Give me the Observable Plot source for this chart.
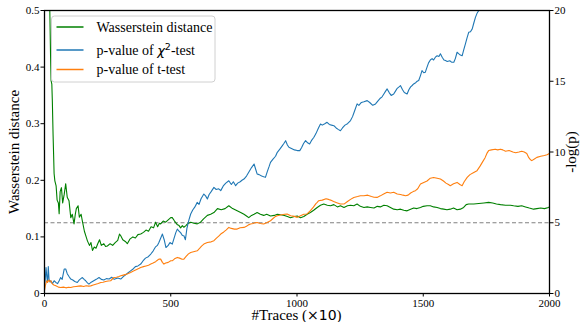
<!DOCTYPE html>
<html>
<head>
<meta charset="utf-8">
<script src="https://cdn.jsdelivr.net/npm/d3@7"></script>
<script src="https://cdn.jsdelivr.net/npm/@observablehq/plot@0.6"></script>
<style>
  html, body { margin: 0; padding: 0; background: #fff; }
  #chart { width: 582px; height: 322px; }
</style>
</head>
<body>
<div id="chart"></div>
<script>
// ---- Data ----
const xTicks = [0, 500, 1000, 1500, 2000];
const leftTicks = [0, 0.1, 0.2, 0.3, 0.4, 0.5];
const rightTicks = [0, 5, 10, 15, 20];
const threshold = 0.125; // Wasserstein distance threshold (== 5 on -log(p) axis)
const seriesNames = ["Wasserstein distance", "p-value of χ²-test", "p-value of t-test"];

// Wasserstein distance (left axis): [traces(x10), distance]
const wasserstein = [[0,1.0],[14,0.62],[21,0.5],[24,0.42],[26,0.376],[29,0.37],[31,0.341],[34,0.28],[36,0.247],[38,0.212],[41,0.199],[46,0.19],[50,0.165],[55,0.16],[58,0.141],[62,0.18],[67,0.187],[72,0.16],[78,0.175],[84,0.194],[90,0.17],[97,0.164],[104,0.134],[110,0.14],[117,0.123],[122,0.14],[126,0.15],[133,0.155],[138,0.135],[145,0.14],[150,0.128],[158,0.11],[165,0.1],[170,0.093],[178,0.085],[184,0.09],[190,0.076],[197,0.082],[204,0.08],[210,0.087],[218,0.095],[225,0.085],[235,0.088],[242,0.083],[249,0.084],[260,0.088],[270,0.085],[280,0.09],[290,0.094],[297,0.105],[302,0.102],[310,0.095],[320,0.092],[328,0.088],[338,0.096],[350,0.1],[360,0.098],[370,0.104],[381,0.105],[392,0.108],[402,0.112],[412,0.11],[422,0.118],[432,0.116],[440,0.126],[448,0.118],[455,0.124],[460,0.123],[470,0.128],[480,0.126],[490,0.13],[500,0.134],[506,0.134],[515,0.128],[525,0.122],[533,0.12],[539,0.116],[546,0.12],[552,0.117],[560,0.12],[566,0.123],[579,0.126],[592,0.124],[605,0.123],[618,0.126],[630,0.132],[645,0.138],[658,0.14],[671,0.143],[685,0.15],[700,0.148],[715,0.15],[730,0.155],[745,0.15],[763,0.146],[777,0.143],[790,0.14],[800,0.137],[809,0.134],[820,0.138],[830,0.14],[842,0.143],[855,0.14],[868,0.138],[880,0.14],[895,0.137],[910,0.138],[922,0.14],[935,0.139],[950,0.138],[962,0.136],[974,0.134],[990,0.136],[1001,0.137],[1014,0.134],[1027,0.136],[1040,0.14],[1053,0.143],[1066,0.147],[1080,0.152],[1093,0.156],[1106,0.158],[1120,0.156],[1133,0.155],[1146,0.157],[1160,0.153],[1172,0.155],[1186,0.152],[1200,0.155],[1212,0.156],[1225,0.155],[1238,0.158],[1251,0.154],[1265,0.152],[1278,0.153],[1291,0.152],[1305,0.151],[1318,0.154],[1330,0.153],[1344,0.156],[1357,0.155],[1370,0.152],[1383,0.149],[1397,0.148],[1410,0.149],[1423,0.147],[1436,0.146],[1450,0.149],[1462,0.151],[1475,0.15],[1489,0.152],[1500,0.154],[1515,0.155],[1528,0.155],[1541,0.153],[1555,0.152],[1568,0.15],[1581,0.149],[1594,0.148],[1607,0.149],[1620,0.151],[1634,0.148],[1647,0.149],[1660,0.152],[1670,0.157],[1680,0.158],[1700,0.158],[1720,0.159],[1740,0.16],[1759,0.161],[1775,0.16],[1790,0.158],[1806,0.157],[1826,0.156],[1845,0.156],[1858,0.155],[1875,0.154],[1890,0.155],[1905,0.153],[1920,0.151],[1937,0.149],[1950,0.15],[1965,0.151],[1980,0.15],[1996,0.152],[2000,0.153]];

// chi-squared test -log(p) (right axis): [traces(x10), -log(p)]
const chiSquared = [[0,0.5],[3,1.0],[6,1.84],[9,1.2],[12,0.78],[15,1.9],[18,1.0],[22,0.8],[25,0.9],[32,0.7],[38,0.9],[45,0.78],[52,0.7],[58,0.9],[64,1.13],[70,1.0],[78,1.73],[84,1.73],[90,1.4],[97,1.2],[104,1.02],[112,0.95],[120,0.85],[130,0.78],[137,0.95],[144,1.05],[150,1.13],[157,1.0],[163,0.9],[170,0.75],[176,0.66],[185,0.8],[195,0.9],[205,1.0],[216,1.13],[225,1.0],[235,0.95],[245,1.05],[256,1.02],[266,1.15],[276,1.0],[290,1.1],[302,1.02],[312,1.2],[320,1.3],[330,1.45],[341,1.6],[352,1.75],[360,1.9],[370,1.95],[381,2.08],[390,2.3],[400,2.5],[411,2.6],[421,2.79],[430,3.0],[440,3.3],[447,3.4],[453,3.61],[460,3.9],[467,4.2],[474,3.8],[481,3.25],[490,3.4],[497,3.6],[506,3.49],[513,3.9],[520,4.3],[526,4.55],[533,4.4],[539,4.3],[546,4.1],[552,4.08],[558,3.8],[564,4.6],[572,5.2],[579,5.62],[587,5.9],[595,6.1],[605,6.44],[612,6.3],[620,6.7],[631,7.03],[638,6.9],[645,6.68],[652,7.0],[660,7.2],[671,7.5],[680,7.35],[690,7.4],[698,7.27],[708,7.6],[718,7.8],[730,7.97],[740,7.7],[748,7.9],[757,7.62],[765,7.8],[775,7.9],[782,8.0],[790,8.09],[800,8.3],[810,8.6],[820,8.9],[830,9.15],[836,8.8],[842,8.45],[850,8.4],[860,8.3],[868,8.25],[875,8.21],[882,8.6],[890,9.0],[895,9.27],[905,9.5],[915,9.7],[922,9.98],[932,10.2],[940,10.4],[948,10.6],[955,10.8],[962,10.5],[968,10.33],[978,10.25],[990,10.15],[1001,10.1],[1011,10.1],[1018,10.3],[1026,10.6],[1034,10.8],[1042,10.65],[1050,10.57],[1057,10.8],[1067,11.04],[1075,11.3],[1085,11.7],[1093,11.98],[1100,11.9],[1110,12.0],[1119,12.1],[1128,11.95],[1137,11.9],[1146,11.86],[1155,11.7],[1163,11.6],[1172,11.5],[1180,11.7],[1190,11.9],[1200,12.0],[1212,12.22],[1220,12.5],[1228,12.9],[1238,13.4],[1245,13.3],[1255,13.5],[1265,13.55],[1278,13.63],[1288,13.5],[1300,13.3],[1311,13.4],[1320,13.6],[1330,13.8],[1337,13.9],[1344,14.1],[1351,14.3],[1357,14.46],[1365,14.2],[1373,14.0],[1383,14.1],[1390,14.3],[1397,14.5],[1404,14.6],[1410,14.69],[1418,14.4],[1425,14.2],[1436,14.1],[1443,14.4],[1450,14.6],[1456,14.7],[1462,14.81],[1470,14.9],[1476,15.0],[1482,15.05],[1489,15.4],[1495,15.75],[1502,15.6],[1508,15.63],[1515,16.0],[1521,16.3],[1528,16.5],[1535,16.6],[1541,16.5],[1548,16.7],[1555,16.8],[1562,16.75],[1568,16.94],[1575,16.7],[1582,16.5],[1588,16.46],[1595,16.4],[1605,16.45],[1612,16.35],[1621,16.34],[1627,16.6],[1634,17.05],[1640,16.95],[1647,16.85],[1654,16.8],[1660,17.2],[1667,17.64],[1674,18.1],[1680,18.46],[1687,18.5],[1694,18.7],[1700,19.1],[1707,19.53],[1713,19.8],[1720,20.0],[1728,20.4],[1740,20.9]];

// t-test -log(p) (right axis): [traces(x10), -log(p)]
const tTest = [[0,0.2],[4,0.6],[8,0.9],[12,0.78],[16,0.95],[20,0.85],[25,0.9],[30,0.7],[37,0.6],[45,0.54],[55,0.45],[64,0.42],[75,0.45],[85,0.4],[95,0.44],[104,0.42],[115,0.48],[125,0.5],[135,0.52],[144,0.54],[155,0.5],[165,0.55],[175,0.52],[183,0.54],[193,0.6],[203,0.65],[213,0.7],[223,0.78],[232,0.8],[242,0.85],[252,0.88],[262,0.9],[275,1.13],[285,1.15],[295,1.2],[302,1.25],[312,1.3],[322,1.35],[332,1.42],[341,1.49],[354,1.6],[365,1.7],[375,1.78],[381,1.84],[392,1.9],[402,1.95],[412,2.0],[421,2.08],[430,2.15],[440,2.25],[447,2.35],[453,2.43],[460,2.43],[467,2.2],[473,2.08],[480,2.15],[490,2.2],[500,2.31],[506,2.31],[515,2.45],[526,2.55],[535,2.5],[545,2.42],[552,2.43],[560,2.6],[570,2.8],[579,2.9],[590,2.95],[605,3.02],[615,3.2],[622,3.35],[631,3.49],[645,3.6],[660,3.65],[671,3.73],[680,3.9],[690,4.05],[698,4.2],[710,4.35],[720,4.5],[730,4.67],[740,4.6],[752,4.55],[763,4.55],[775,4.65],[790,4.67],[800,4.75],[808,4.85],[816,4.91],[826,4.95],[834,5.0],[842,5.02],[855,4.95],[868,4.91],[880,5.0],[895,5.14],[905,5.3],[915,5.45],[922,5.5],[935,5.55],[950,5.6],[961,5.62],[975,5.5],[990,5.45],[1001,5.38],[1014,5.5],[1027,5.6],[1040,5.62],[1053,5.85],[1065,6.1],[1075,6.35],[1080,6.44],[1086,6.56],[1100,6.6],[1115,6.7],[1125,6.65],[1133,6.6],[1145,6.5],[1160,6.4],[1172,6.32],[1186,6.32],[1200,6.5],[1212,6.65],[1225,6.79],[1240,6.85],[1251,6.91],[1265,6.91],[1280,6.95],[1295,6.85],[1305,6.8],[1317,6.79],[1330,6.9],[1345,7.05],[1357,7.15],[1370,7.1],[1383,7.15],[1397,7.03],[1410,7.0],[1420,6.95],[1430,6.91],[1440,6.95],[1450,7.1],[1460,7.2],[1469,7.27],[1478,7.4],[1489,7.74],[1502,7.85],[1515,7.95],[1528,8.15],[1541,8.2],[1555,8.15],[1568,8.09],[1580,7.95],[1590,7.8],[1600,7.7],[1607,7.62],[1620,7.75],[1634,7.85],[1645,7.7],[1654,7.62],[1662,7.9],[1674,8.21],[1685,8.4],[1700,8.55],[1713,8.68],[1725,9.0],[1735,9.3],[1745,9.6],[1752,9.9],[1759,10.1],[1770,10.15],[1785,10.2],[1795,10.15],[1806,10.2],[1815,10.15],[1826,10.05],[1840,10.1],[1855,10.0],[1866,9.95],[1879,10.0],[1890,10.05],[1900,10.0],[1910,9.9],[1918,9.6],[1925,9.45],[1930,9.39],[1940,9.5],[1950,9.62],[1965,9.7],[1980,9.75],[1990,9.8],[1996,9.86],[2000,9.9]];

// ---- Chart ----
const colors = ["#008000", "#1f77b4", "#ff7f0e"];
const leftMax = 0.5, rightMax = 20;
const k = leftMax / rightMax; // right axis -> left axis scale factor
const serif = "Liberation Serif, Times New Roman, serif";

const svg = Plot.plot({
  width: 582,
  height: 322,
  marginLeft: 44,
  marginRight: 33,
  marginTop: 10,
  marginBottom: 29,
  style: { fontFamily: serif, fontSize: "11px", color: "#000", background: "#fff" },
  x: { domain: [0, 2000] },
  y: { domain: [0, leftMax] },
  marks: [
    Plot.ruleY([threshold], { stroke: "#808080", strokeWidth: 1, strokeDasharray: "4,2.5" }),
    Plot.line(wasserstein, { x: d => d[0], y: d => d[1], stroke: colors[0], strokeWidth: 1.1, clip: true }),
    Plot.line(chiSquared, { x: d => d[0], y: d => d[1] * k, stroke: colors[1], strokeWidth: 1.1, clip: true }),
    Plot.line(tTest, { x: d => d[0], y: d => d[1] * k, stroke: colors[2], strokeWidth: 1.1, clip: true }),
    Plot.axisX({ ticks: xTicks, tickSize: 3.5, tickPadding: 2, label: null, fontFamily: serif, tickFormat: d => String(d) }),
    Plot.axisY({ ticks: leftTicks, tickSize: 3.5, tickPadding: 1.5, label: null, fontFamily: serif, tickFormat: d => d === 0 ? "0" : d3.format(".1f")(d) }),
    Plot.axisY({ anchor: "right", ticks: rightTicks.map(v => v * k), tickSize: 3.5, tickPadding: 1.5, label: null, fontFamily: serif, tickFormat: d => String(Math.round(d / k)) }),
    Plot.frame({ stroke: "#000", strokeWidth: 1.3 })
  ]
});

document.getElementById("chart").appendChild(svg);

const s = d3.select(svg);
// make sure all axis tick labels use the serif face
s.selectAll("text").style("font-family", serif).style("font-size", "11px");

// Axis titles
s.append("text")
  .attr("transform", "translate(16,152) rotate(-90)")
  .attr("text-anchor", "middle").attr("dominant-baseline", "middle")
  .style("font-family", serif).style("font-size", "15px").attr("fill", "#000")
  .text("Wasserstein distance");

s.append("text")
  .attr("transform", "translate(573,152) rotate(-90)")
  .attr("text-anchor", "middle").attr("dominant-baseline", "middle")
  .style("font-family", serif).style("font-size", "15px").attr("fill", "#000")
  .text("-log(p)");

const xl = s.append("text")
  .attr("x", 296.5).attr("y", 320)
  .attr("text-anchor", "middle")
  .style("font-family", serif).style("font-size", "15px").attr("fill", "#000");
xl.append("tspan").text("#Traces (");
xl.append("tspan").style("font-family", "DejaVu Sans, sans-serif").style("font-size", "14px").text("×10");
xl.append("tspan").text(")");

// Legend
const lg = s.append("g").attr("transform", "translate(51.5,16)");
lg.append("rect")
  .attr("width", 163.5).attr("height", 66).attr("rx", 3)
  .attr("fill", "#fff").attr("fill-opacity", 0.85)
  .attr("stroke", "#d0d0d0").attr("stroke-width", 1);
const rowsY = [11, 34, 53.5];
seriesNames.forEach((name, i) => {
  lg.append("line")
    .attr("x1", 5).attr("x2", 32)
    .attr("y1", rowsY[i]).attr("y2", rowsY[i])
    .attr("stroke", colors[i]).attr("stroke-width", 1.5);
  const t = lg.append("text")
    .attr("x", 45).attr("y", rowsY[i] + 4.5)
    .attr("text-anchor", "start")
    .style("font-family", serif).style("font-size", "14px").attr("fill", "#000");
  if (i === 1) {
    t.append("tspan").text("p-value of ");
    t.append("tspan").style("font-family", "DejaVu Sans, sans-serif").style("font-style", "italic").style("font-size", "13px").text("χ");
    t.append("tspan").style("font-family", "DejaVu Sans, sans-serif").style("font-size", "9.5px").attr("dy", -5).text("2");
    t.append("tspan").attr("dy", 5).text("-test");
  } else {
    t.text(name);
  }
});
</script>
</body>
</html>
